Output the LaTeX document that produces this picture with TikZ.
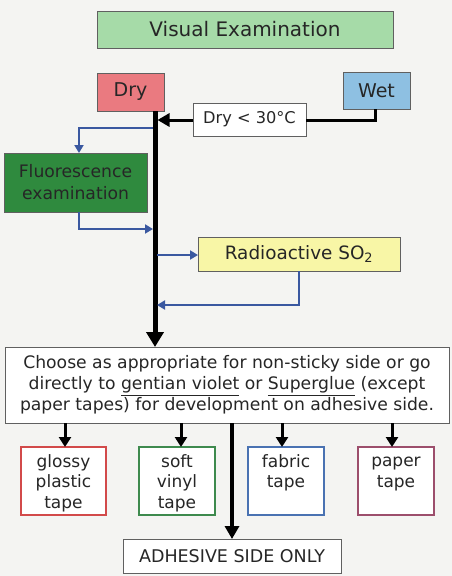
\documentclass[tikz,border=0pt]{standalone}
\usepackage{fontspec}
\setmainfont{DejaVu Sans}
\usetikzlibrary{arrows.meta}
\definecolor{bg}{HTML}{F4F4F2}
\definecolor{vegreen}{HTML}{A6DBA8}
\definecolor{dryred}{HTML}{EA7A80}
\definecolor{wetblue}{HTML}{8EC0E2}
\definecolor{fluo}{HTML}{2F8A3E}
\definecolor{radyel}{HTML}{F8F6A6}
\definecolor{flowblue}{HTML}{3A58A0}
\definecolor{tred}{HTML}{D24A4A}
\definecolor{tgreen}{HTML}{3E8A4E}
\definecolor{tblue}{HTML}{4A72B2}
\definecolor{tpurple}{HTML}{9C4E6C}
\definecolor{boxline}{HTML}{606060}
\definecolor{txt}{HTML}{262626}
\tikzset{
  box/.style={draw=boxline, line width=0.9pt, inner sep=0pt, outer sep=0pt, anchor=north west, align=center, text=txt},
  mainflow/.style={line width=5pt, -{Triangle[length=15pt,width=17pt]}},
  blueflow/.style={draw=flowblue, line width=1.8pt, -{Triangle[length=8pt,width=9pt]}},
  tapeflow/.style={line width=3pt, -{Triangle[length=10pt,width=12pt]}},
  tape/.style={line width=1.5pt, fill=white, inner sep=0pt, outer sep=0pt, anchor=north west, minimum width=#1, minimum height=68pt},
}
\begin{document}
\begin{tikzpicture}[x=1pt,y=-1pt]
\fill[bg] (0,0) rectangle (452,576);
\useasboundingbox (0,0) rectangle (452,576);

\node[box, fill=vegreen, minimum width=296pt, minimum height=37pt, font=\fontsize{20}{24}\selectfont] (ve) at (97,11) {Visual Examination};
\node[box, fill=dryred, minimum width=67pt, minimum height=38pt, font=\fontsize{19}{22}\selectfont] (dry) at (97,73) {Dry};
\node[box, fill=wetblue, minimum width=67pt, minimum height=37pt, font=\fontsize{19}{22}\selectfont] (wet) at (343,72) {Wet};
\node[box, fill=white, minimum width=113pt, minimum height=33pt, font=\fontsize{16.2}{19}\selectfont] (d30) at (193,103) {Dry < 30\textdegree C};
\node[box, fill=fluo, minimum width=143pt, minimum height=59pt, font=\fontsize{17.2}{22}\selectfont] (fl) at (4,153) {Fluorescence\\examination};
\node[box, fill=radyel, minimum width=202pt, minimum height=34pt, font=\fontsize{18.4}{21}\selectfont] (rad) at (198,237) {Radioactive SO\textsubscript{2}};
\node[box, fill=white, minimum width=444pt, minimum height=76pt, font=\fontsize{17.2}{21}\selectfont] (ch) at (5,347)
  {Choose as appropriate for non-sticky side or go\\directly to \underline{gentian violet} or \underline{Superglue} (except\\paper tapes) for development on adhesive side.};

\begin{scope}[font=\fontsize{17}{20.5}\selectfont, align=center, text=txt]
\node[tape=85pt, draw=tred] (gl) at (21,447) {};
\node[tape=76pt, draw=tgreen] (sv) at (139,447) {};
\node[tape=76pt, draw=tblue] (fa) at (248,447) {};
\node[tape=76pt, draw=tpurple] (pa) at (358,447) {};
\begin{scope}
\clip (0,447) rectangle (452,514);
\node[anchor=north] (glt) at (63.5,451) {\vphantom{Ag}glossy\\plastic\\tape};
\node[anchor=north] (svt) at (177,451) {\vphantom{Ag}soft\\vinyl\\tape};
\end{scope}
\node[anchor=north] (fat) at (286,451) {\vphantom{Ag}fabric\\tape};
\node[anchor=north] (pat) at (396,451) {\vphantom{Ag}paper\\tape};
\end{scope}

\node[box, fill=white, minimum width=218pt, minimum height=34pt, font=\fontsize{17.5}{20}\selectfont] (adh) at (123,539) {ADHESIVE SIDE ONLY};

% main flow
\coordinate (mtop) at (155,111);
\coordinate (mbot) at (155,347);
\draw[mainflow] (mtop) -- (mbot);

% wet path
\coordinate (wj) at (375,120);
\coordinate (wl) at (157.5,120);
\draw[line width=3pt] (wet.south -| wj) -- (wj) -- (d30.east |- wj);
\draw[line width=3pt, -{Triangle[length=12pt,width=13pt]}] (d30.west |- wj) -- (wl);

% blue paths
\coordinate (b1) at (153,128);
\coordinate (b1c) at (79,128);
\draw[blueflow] (b1) -- (b1c) -- (b1c |- fl.north);
\coordinate (b2c) at (79,229);
\coordinate (b2) at (153,229);
\draw[blueflow] (b2c |- fl.south) -- (b2c) -- (b2);
\coordinate (b3) at (157,255);
\draw[blueflow] (b3) -- (rad.west |- b3);
\coordinate (b4c) at (299,305);
\coordinate (b4) at (157,305);
\draw[blueflow] (b4c |- rad.south) -- (b4c) -- (b4);

% tape arrows
\foreach \n/\x in {gl/65, sv/181, fa/282, pa/392}{
  \draw[tapeflow] (\x,423) -- (\n.north -| \x,0);
}
\draw[mainflow, line width=4pt, -{Triangle[length=13pt,width=14pt]}] (232,423) -- (adh.north -| 232,0);
\end{tikzpicture}
\end{document}
